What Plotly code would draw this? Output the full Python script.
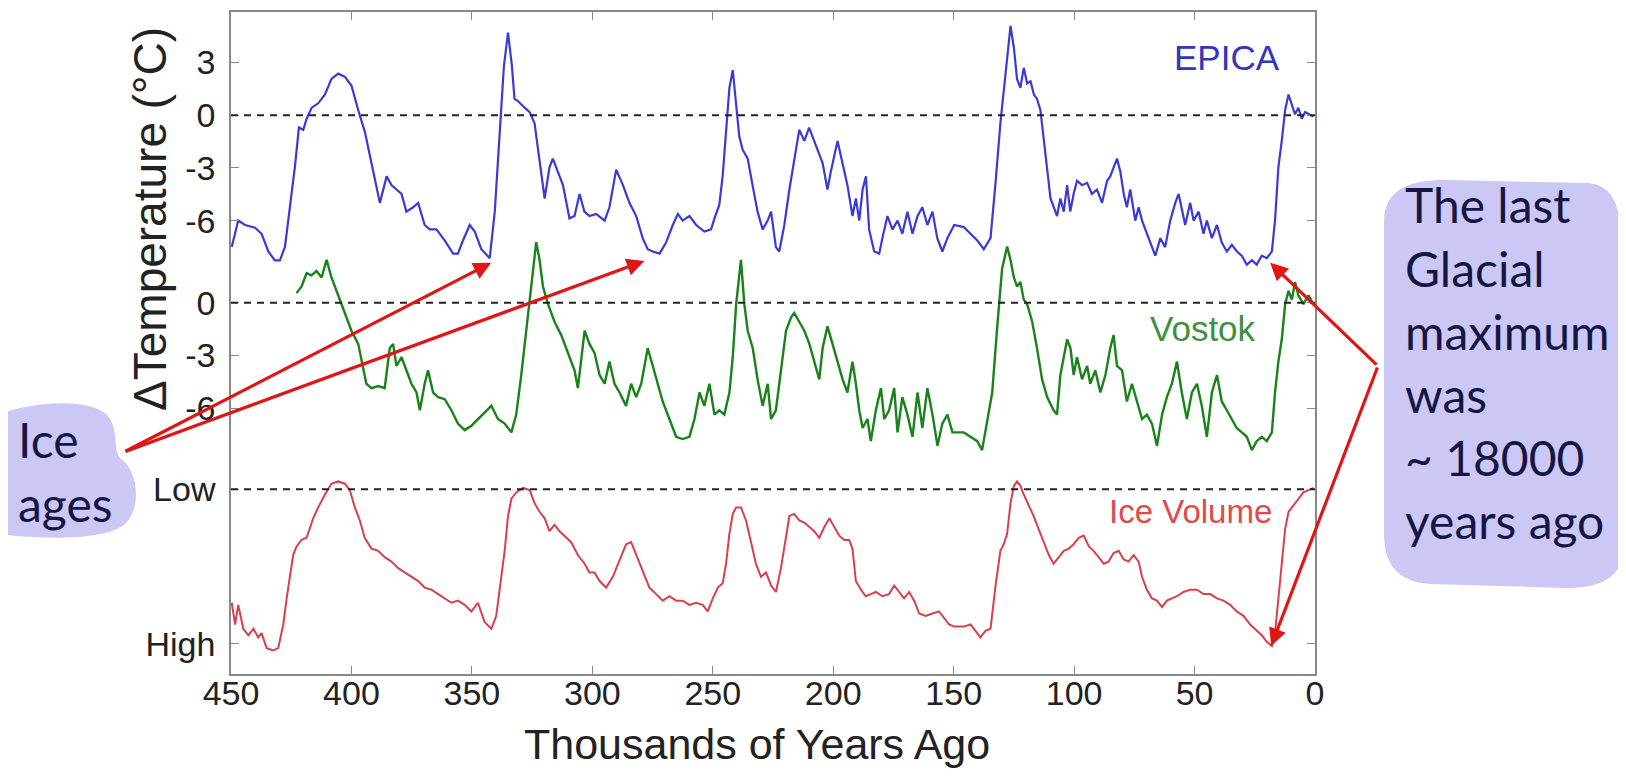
import plotly.graph_objects as go

# ---------------- data ----------------
# EPICA temperature anomaly (deg C) vs thousands of years ago
epica_age = [449.7, 447.0, 444.2, 440.0, 437.3, 434.5, 431.8, 429.7, 427.6, 425.5, 423.5, 421.8, 420.0, 418.6,
             416.5, 413.8, 411.0, 408.3, 405.5, 402.7, 400.0, 397.2, 394.4, 391.7, 388.2, 385.4, 383.4, 381.3,
             379.2, 377.2, 374.4, 372.3, 369.6, 367.5, 364.7, 361.3, 357.8, 355.8, 353.7, 350.9, 348.8, 346.1,
             342.6, 340.5, 338.5, 336.7, 335.0, 333.4, 332.3, 330.9, 328.1, 326.0, 324.0, 321.9, 319.8, 317.8,
             316.4, 314.3, 312.2, 309.5, 307.4, 305.3, 303.3, 301.2, 298.4, 294.9, 292.9, 290.1, 287.3, 284.6,
             281.8, 279.1, 277.0, 274.9, 272.1, 269.4, 266.6, 264.5, 262.5, 259.7, 256.9, 253.5, 250.7, 249.3,
             247.3, 245.9, 244.5, 243.1, 241.7, 240.3, 239.0, 237.6, 235.5, 233.5, 231.4, 229.3, 227.2, 225.8,
             223.8, 222.4, 220.3, 218.2, 216.2, 214.1, 212.0, 210.0, 207.2, 204.4, 202.4, 201.0, 198.2, 196.1,
             194.1, 192.0, 190.6, 189.2, 187.8, 186.4, 185.1, 183.0, 180.9, 179.6, 177.5, 175.4, 173.3, 171.3,
             169.2, 167.1, 165.0, 163.0, 160.9, 158.8, 156.8, 154.7, 152.6, 149.8, 145.8, 143.0, 140.2, 137.5,
             134.7, 132.7, 130.6, 128.5, 126.4, 125.0, 123.7, 122.3, 120.9, 119.5, 118.1, 116.7, 115.4, 114.0,
             112.6, 111.2, 109.8, 108.4, 107.1, 105.7, 104.3, 102.9, 101.6, 100.2, 98.8, 96.7, 94.6, 92.6,
             90.5, 88.4, 86.3, 85.0, 83.6, 82.2, 80.8, 79.4, 78.1, 76.7, 74.6, 73.2, 71.8, 70.5, 68.4, 66.3,
             64.2, 62.2, 60.1, 58.0, 56.6, 55.2, 53.9, 51.8, 50.4, 48.3, 46.3, 44.9, 42.8, 40.7, 38.7, 36.6,
             34.5, 32.4, 30.4, 28.3, 26.2, 24.2, 22.1, 20.0, 17.9, 16.6, 15.2, 13.8, 12.4, 11.0, 9.6, 8.3,
             6.9, 5.5, 4.1, 2.1, 0.7]
epica_temp = [-7.5, -6.0, -6.25, -6.4, -6.75, -7.76, -8.26, -8.26, -7.5, -5.24, -2.97, -0.7, -0.83, -0.2,
              0.43, 0.68, 1.18, 2.07, 2.37, 2.19, 1.69, 0.3, -0.96, -2.72, -4.99, -3.48, -3.98, -4.23,
              -4.48, -5.49, -5.24, -4.99, -6.25, -6.5, -6.5, -7.13, -7.88, -7.88, -7.13, -6.25, -6.62, -7.63,
              -8.14, -5.49, -0.96, 2.82, 4.71, 2.82, 0.93, 0.81, 0.43, 0.18, -0.45, -2.72, -4.74, -2.97,
              -2.47, -3.22, -3.98, -5.87, -5.74, -4.48, -5.49, -5.74, -5.62, -6.0, -5.24, -3.1, -3.98, -4.99,
              -5.74, -7.0, -7.63, -7.76, -7.88, -7.25, -6.25, -5.62, -6.0, -5.74, -6.25, -6.62, -6.5, -5.87,
              -5.11, -3.48, -0.96, 1.56, 2.57, 0.81, -1.21, -1.96, -2.47, -3.98, -5.49, -6.5, -6.0, -5.49,
              -7.51, -7.76, -6.25, -4.23, -2.47, -0.83, -1.46, -0.71, -1.71, -2.72, -4.23, -3.22, -1.46, -2.72,
              -3.98, -5.74, -4.74, -6.0, -4.23, -3.48, -6.5, -7.76, -7.88, -7.0, -5.74, -6.5, -6.0, -6.75,
              -5.49, -6.75, -5.74, -5.24, -6.25, -5.49, -7.0, -7.76, -7.0, -6.25, -6.37, -6.75, -7.13, -7.63,
              -7.0, -3.98, -0.45, 2.32, 5.09, 3.83, 2.07, 1.56, 2.7, 1.81, 1.94, 1.18, 0.93, 0.3,
              -1.46, -3.22, -4.74, -5.24, -5.74, -4.74, -5.49, -3.98, -5.49, -4.48, -3.73, -3.98, -3.85, -4.48,
              -4.23, -4.99, -3.73, -3.48, -2.97, -2.47, -3.22, -4.48, -5.24, -4.23, -6.0, -5.24, -6.0, -6.5, -7.25, -8.0,
              -7.0, -7.51, -6.0, -4.99, -4.48, -5.49, -6.25, -4.99, -6.0, -5.49, -6.75, -6.0, -7.0, -6.25, -7.25, -7.76,
              -7.38, -7.76, -8.0, -8.51, -8.26, -8.51, -8.0, -8.14, -7.76, -6.0, -2.97, -1.46, 0.3, 1.18, 0.55, 0.05,
              0.43, -0.2, 0.18, 0.05, -0.08]

# Vostok temperature anomaly (deg C)
vostok_age = [422.8, 420.7, 418.6, 416.6, 414.5, 412.4, 410.3, 408.3, 405.5, 402.7, 400.0, 397.2, 395.1, 393.8,
              391.7, 388.9, 386.2, 384.1, 382.7, 381.3, 379.2, 377.2, 375.1, 373.0, 371.6, 369.6, 368.2, 366.1,
              364.0, 361.3, 358.5, 355.8, 353.0, 350.2, 347.5, 344.7, 341.9, 339.2, 336.4, 333.6, 331.6, 329.5,
              327.4, 325.3, 323.3, 321.9, 320.5, 318.4, 315.7, 312.9, 310.1, 307.4, 306.0, 304.6, 303.2, 301.2,
              299.1, 297.0, 294.9, 292.9, 290.8, 288.7, 286.0, 283.9, 281.8, 279.7, 277.0, 274.9, 272.8, 270.8,
              268.0, 265.2, 262.5, 259.7, 257.6, 255.5, 253.5, 251.4, 249.3, 247.3, 245.2, 243.1, 241.7, 240.3,
              238.3, 236.9, 235.5, 233.4, 231.4, 229.3, 227.2, 225.8, 223.8, 221.7, 219.6, 217.5, 216.2, 214.1,
              212.0, 209.9, 207.9, 205.8, 204.4, 202.4, 200.3, 198.2, 196.1, 194.1, 192.0, 190.6, 189.2, 187.8,
              185.8, 184.4, 182.3, 180.2, 178.8, 176.8, 174.7, 173.3, 171.3, 169.2, 167.1, 165.0, 163.0, 160.9,
              158.8, 156.7, 154.7, 152.6, 150.5, 145.8, 143.0, 140.2, 138.2, 136.1, 134.0, 131.9, 129.9, 127.8,
              126.4, 125.0, 123.7, 122.3, 120.9, 119.5, 117.4, 115.4, 113.3, 111.2, 108.5, 107.1, 105.7, 104.3,
              102.9, 101.5, 100.2, 98.8, 96.7, 94.6, 93.3, 91.2, 89.1, 87.0, 85.0, 83.6, 82.2, 80.1, 78.1, 76.0,
              73.9, 71.8, 69.8, 67.7, 65.6, 63.5, 61.5, 59.4, 57.3, 55.3, 53.2, 51.1, 49.0, 47.0, 44.9, 42.8,
              40.7, 38.7, 36.6, 34.5, 32.5, 30.4, 28.3, 26.2, 24.2, 22.1, 20.0, 17.9, 16.6, 15.2, 13.8, 12.4,
              11.0, 9.6, 8.3, 6.9, 4.8, 2.7, 0.7]
vostok_temp = [0.55, 0.93, 1.69, 1.56, 1.81, 1.44, 2.44, 1.44, 0.43, -0.58, -1.59, -2.34, -3.85, -4.61,
               -4.86, -4.74, -4.86, -2.59, -2.34, -3.6, -3.1, -3.85, -4.61, -5.11, -6.12, -4.61, -3.85, -5.11,
               -5.37, -5.49, -6.12, -6.88, -7.25, -7.0, -6.62, -6.25, -5.87, -6.62, -6.88, -7.38, -6.37, -4.11,
               -1.59, 1.18, 3.45, 2.44, 0.93, -0.08, -1.08, -1.84, -2.85, -3.85, -4.86, -3.1, -1.59, -2.34,
               -2.85, -4.11, -4.61, -3.35, -4.61, -5.11, -5.87, -4.61, -5.37, -4.61, -2.59, -3.6, -4.61, -5.62,
               -6.62, -7.63, -7.76, -7.63, -6.62, -5.11, -5.87, -4.61, -6.37, -6.12, -6.37, -5.11, -3.1, -0.08,
               2.44, -0.08, -1.59, -2.59, -4.36, -5.87, -4.61, -6.62, -6.12, -3.85, -1.59, -0.83, -0.58, -1.08,
               -1.59, -2.34, -3.35, -4.36, -2.59, -1.34, -2.34, -3.35, -4.36, -5.11, -3.35, -4.61, -6.12, -7.13,
               -6.62, -7.88, -6.12, -4.86, -6.62, -6.12, -4.86, -7.38, -5.37, -6.37, -7.63, -5.11, -7.13, -4.86,
               -6.37, -8.14, -6.88, -6.37, -7.38, -7.38, -7.63, -7.88, -8.39, -6.62, -5.11, -1.34, 1.94, 3.2,
               2.44, 1.44, 0.93, 1.18, 0.18, -0.08, -1.08, -2.59, -4.36, -5.37, -6.12, -6.37, -4.11, -3.1,
               -2.09, -2.59, -4.11, -3.1, -4.36, -3.6, -4.61, -3.85, -5.11, -4.11, -2.59, -1.84, -3.6, -3.85, -5.62, -4.61,
               -5.62, -6.62, -6.37, -6.88, -8.14, -6.37, -5.37, -4.61, -3.35, -5.11, -6.62, -5.11, -4.61, -5.87, -7.63, -5.11,
               -4.11, -5.62, -6.12, -6.62, -7.13, -7.38, -7.63, -8.39, -7.88, -7.63, -7.88, -7.38, -5.11, -3.35, -2.09, -0.08,
               0.68, 0.18, 1.18, 0.43, -0.08, 0.43, -0.08]

# Ice volume (relative: 0 = Low, 1 = High)
ice_age = [449.7, 448.3, 447.0, 444.9, 442.8, 440.7, 438.7, 437.3, 435.2, 432.5, 430.4, 428.3, 426.9, 425.5,
           424.2, 422.8, 420.7, 418.6, 417.3, 415.9, 413.8, 411.0, 408.3, 405.5, 402.7, 400.7, 398.6, 396.5,
           394.5, 391.7, 388.9, 386.2, 383.4, 380.6, 377.9, 375.1, 372.3, 369.6, 366.8, 364.0, 361.3, 358.5,
           355.8, 353.0, 350.2, 347.5, 344.7, 341.9, 339.9, 337.8, 336.4, 335.0, 333.6, 331.6, 328.8, 326.0,
           324.0, 321.9, 319.8, 317.8, 315.7, 313.6, 311.5, 308.8, 306.0, 303.2, 301.2, 299.1, 297.0, 294.3,
           291.5, 288.7, 286.0, 283.9, 281.8, 279.0, 276.3, 273.5, 270.8, 268.0, 265.2, 262.5, 259.7, 256.9,
           254.2, 252.1, 250.0, 247.9, 245.9, 244.5, 243.1, 241.7, 240.3, 238.3, 236.2, 234.1, 232.1, 230.0,
           227.9, 225.8, 223.8, 221.7, 219.6, 218.2, 216.2, 214.1, 212.0, 209.9, 207.9, 205.8, 203.7, 201.6,
           199.6, 197.5, 195.4, 193.4, 192.0, 190.6, 188.5, 186.5, 184.4, 182.3, 179.6, 176.8, 174.7, 172.6,
           170.6, 168.5, 166.4, 164.3, 161.6, 158.8, 156.1, 154.0, 151.9, 149.8, 145.8, 143.0, 140.9, 138.9,
           136.8, 134.7, 132.6, 130.6, 129.2, 127.8, 126.4, 125.0, 123.7, 122.3, 120.9, 118.8, 116.8, 114.7,
           112.6, 110.5, 108.5, 106.4, 104.3, 102.2, 100.2, 98.1, 96.0, 93.9, 91.9, 89.8, 87.7, 85.7,
           83.6, 81.5, 79.4, 77.4, 75.3, 73.2, 71.8, 69.8, 67.7, 65.6, 63.5, 61.5, 59.4, 57.3, 54.6, 51.8,
           49.0, 46.3, 43.5, 40.7, 38.0, 35.2, 32.5, 29.7, 26.9, 24.2, 22.1, 20.0, 17.9, 16.6, 15.2, 13.8,
           12.4, 11.0, 8.9, 6.9, 4.8, 2.7, 0.7]
ice_volume = [0.695, 0.828, 0.708, 0.854, 0.894, 0.854, 0.907, 0.881, 0.973, 0.987, 0.973, 0.828, 0.668, 0.536,
              0.403, 0.35, 0.31, 0.297, 0.244, 0.178, 0.111, 0.032, -0.034, -0.048, -0.034, 0.005, 0.111, 0.191,
              0.297, 0.363, 0.377, 0.416, 0.443, 0.483, 0.509, 0.536, 0.562, 0.602, 0.615, 0.642, 0.668, 0.695,
              0.682, 0.708, 0.748, 0.695, 0.814, 0.854, 0.775, 0.536, 0.377, 0.164, 0.058, 0.019, -0.008, 0.005,
              0.085, 0.138, 0.178, 0.257, 0.218, 0.257, 0.284, 0.324, 0.403, 0.456, 0.509, 0.509, 0.562, 0.602,
              0.536, 0.43, 0.337, 0.324, 0.403, 0.509, 0.602, 0.642, 0.682, 0.655, 0.682, 0.682, 0.708, 0.695,
              0.708, 0.748, 0.668, 0.602, 0.576, 0.456, 0.271, 0.151, 0.111, 0.111, 0.191, 0.324, 0.456, 0.536,
              0.509, 0.589, 0.629, 0.483, 0.297, 0.164, 0.151, 0.191, 0.204, 0.231, 0.257, 0.297, 0.231, 0.178,
              0.231, 0.284, 0.31, 0.31, 0.363, 0.562, 0.615, 0.655, 0.642, 0.629, 0.655, 0.642, 0.589, 0.629,
              0.668, 0.629, 0.682, 0.761, 0.775, 0.761, 0.748, 0.788, 0.828, 0.841, 0.841, 0.828, 0.867, 0.907,
              0.867, 0.854, 0.589, 0.377, 0.337, 0.271, 0.085, -0.021, -0.048, -0.021, 0.032, 0.098, 0.164, 0.244,
              0.324, 0.403, 0.456, 0.416, 0.377, 0.363, 0.337, 0.297, 0.284, 0.35, 0.377, 0.416, 0.456, 0.443,
              0.39, 0.377, 0.43, 0.443, 0.403, 0.443, 0.536, 0.615, 0.668, 0.682, 0.721, 0.682, 0.668, 0.655, 0.629, 0.615,
              0.615, 0.642, 0.642, 0.668, 0.682, 0.708, 0.748, 0.775, 0.828, 0.867, 0.894, 0.934, 0.960, 0.881, 0.668, 0.43,
              0.244, 0.138, 0.098, 0.058, 0.019, 0.005, -0.008]

x_ticks = [450, 400, 350, 300, 250, 200, 150, 100, 50, 0]
temp_ticks = [3, 0, -3, -6]
vostok_ticks = [0, -3, -6]
ice_tick_labels = ["Low", "High"]

# ---------------- layout geometry (page pixel coordinates) ----------------
PAGE_OFF = 8                     # default body margin of the html page
W, H = 1626 - 2 * PAGE_OFF, 776 - 2 * PAGE_OFF
L, R, T, B = 231, 1315, 12, 674  # plot frame on the page
Y_TOP = 5.88
Y_SPAN = 37.7
Y_BOT = Y_TOP - Y_SPAN
VOSTOK_OFFSET = -10.68
ICE_LOW = -21.3
ICE_HIGH = -30.6
ICE_HIGH_TICK = -30.1


def ice_to_axis(v):
    return ICE_LOW - v * (ICE_LOW - ICE_HIGH)


def pxx(px):
    return (px - L) / (R - L)


def pxy(py):
    return (B - py) / (B - T)


def x_from_px(px):
    return 450 - (px - L) / (R - L) * 450


def y_from_px(py):
    return Y_TOP - (py - T) / (B - T) * Y_SPAN


FONT = "Liberation Sans, Arial, Helvetica, sans-serif"
BLOB_FONT = "Lato, Noto Sans, sans-serif"
BLOB_COLOR = "#ccc8f5"
NAVY = "#161645"
ARROW = "#e01515"

fig = go.Figure()

fig.add_trace(go.Scatter(x=epica_age, y=epica_temp, mode="lines",
                         line=dict(color="#3a3ad4", width=2.2), name="EPICA"))
fig.add_trace(go.Scatter(x=vostok_age, y=[t + VOSTOK_OFFSET for t in vostok_temp], mode="lines",
                         line=dict(color="#1a821a", width=2.4), name="Vostok"))
fig.add_trace(go.Scatter(x=ice_age, y=[ice_to_axis(v) for v in ice_volume], mode="lines",
                         line=dict(color="#d8404c", width=2), name="Ice Volume"))

# dashed reference lines
for yv in [0, VOSTOK_OFFSET, ICE_LOW]:
    fig.add_shape(type="line", xref="paper", x0=0, x1=1, yref="y", y0=yv, y1=yv,
                  line=dict(color="#222222", width=2, dash="7px,6px"), layer="above")


def path_from(cmds):
    out = []
    for c in cmds:
        if isinstance(c, str):
            out.append(c)
        else:
            out.append(f"{pxx(c[0]):.5f},{pxy(c[1]):.5f}")
    return " ".join(out)


left_blob = path_from(["M", (-10, 418), "C", (30, 400), (88, 398), (106, 414),
                       "C", (120, 428), (112, 448), (120, 458),
                       "C", (138, 470), (142, 506), (126, 523),
                       "C", (108, 541), (40, 540), (-10, 533), "Z"])
right_blob = path_from(["M", (1384, 222), "C", (1384, 190), (1408, 180), (1446, 180),
                        "L", (1588, 183), "C", (1612, 185), (1620, 205), (1620, 232),
                        "L", (1624, 545), "C", (1624, 578), (1600, 588), (1566, 588),
                        "L", (1430, 584), "C", (1398, 582), (1384, 564), (1384, 534), "Z"])
for p in [left_blob, right_blob]:
    fig.add_shape(type="path", xref="paper", yref="paper", path=p,
                  fillcolor=BLOB_COLOR, line=dict(width=0), layer="below")


def label(text, px, py, size, color, family=FONT, xanchor="center", angle=0):
    return dict(text=text, x=pxx(px), y=pxy(py), xref="paper", yref="paper",
                xanchor=xanchor, yanchor="middle", textangle=angle, showarrow=False,
                font=dict(family=family, size=size, color=color))


ann = []
ann.append(label("EPICA", 1227, 58, 35, "#3434c0"))
ann.append(label("Vostok", 1203, 329, 35, "#3f8f3f"))
ann.append(label("Ice Volume", 1190, 511, 33, "#e04a4a"))
ann.append(label("ΔTemperature (°C)", 150, 219, 46, "#222222", angle=-90))
ann.append(label("Thousands of Years Ago", 757, 744, 43, "#222222"))
for txt, py in [("Ice", 439), ("ages", 503)]:
    ann.append(label(txt, 16, py, 48, NAVY, family=BLOB_FONT, xanchor="left"))
for i, txt in enumerate(["The last", "Glacial", "maximum", "was", "~ 18000", "years ago"]):
    ann.append(label(txt, 1403, 205 + i * 63, 48, NAVY, family=BLOB_FONT, xanchor="left"))

# red arrows
left_tail = (x_from_px(124), y_from_px(452))
right_tail = (x_from_px(1378), y_from_px(366))
heads = [((342.0, -8.4), left_tail), ((278.4, -8.3), left_tail),
         ((18.6, -8.4), right_tail), ((18.2, ice_to_axis(0.96)), right_tail)]
for (hx, hy), (tx, ty) in heads:
    ann.append(dict(x=hx, y=hy, xref="x", yref="y", ax=tx, ay=ty, axref="x", ayref="y",
                    text="", showarrow=True, arrowhead=2, arrowsize=1.1, arrowwidth=3.2,
                    arrowcolor=ARROW, standoff=0))

tickvals = [float(t) for t in temp_ticks] + [t + VOSTOK_OFFSET for t in vostok_ticks] + [ICE_LOW, ICE_HIGH_TICK]
ticktext = [str(t) for t in temp_ticks] + [str(t) for t in vostok_ticks] + ice_tick_labels

fig.update_layout(
    width=W, height=H,
    margin=dict(l=L - PAGE_OFF, r=W + PAGE_OFF - R, t=T - PAGE_OFF, b=H + PAGE_OFF - B,
                autoexpand=False),
    paper_bgcolor="white", plot_bgcolor="white",
    showlegend=False,
    annotations=ann,
    xaxis=dict(range=[450, 0], tickvals=x_ticks, ticktext=[str(v) for v in x_ticks],
               ticks="inside", ticklen=8, tickcolor="#888888", showline=True, mirror="ticks",
               linecolor="#888888", linewidth=1.5, showgrid=False, zeroline=False,
               ticklabelstandoff=-12,
               tickfont=dict(family=FONT, size=34, color="#222222")),
    yaxis=dict(range=[Y_BOT, Y_TOP], tickvals=tickvals, ticktext=ticktext,
               ticks="inside", ticklen=8, tickcolor="#888888", showline=True, mirror="ticks",
               linecolor="#888888", linewidth=1.5, showgrid=False, zeroline=False,
               ticklabelstandoff=7,
               tickfont=dict(family=FONT, size=34, color="#222222")),
)

fig.write_html("out.html")
